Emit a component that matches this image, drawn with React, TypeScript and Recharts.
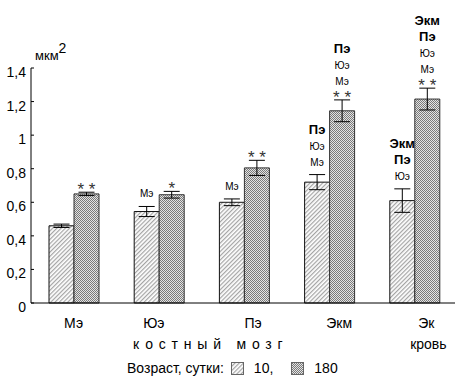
import React from 'react';
import { BarChart, Bar, XAxis, YAxis, ErrorBar } from 'recharts';

// cell types and the two ages (10 and 180 days)
const categories = ['Мэ', 'Юэ', 'Пэ', 'Экм', 'Эк'];
const age10 = [0.46, 0.545, 0.6, 0.72, 0.61];
const age180 = [0.65, 0.645, 0.805, 1.145, 1.215];
const err10 = [0.01, 0.03, 0.02, 0.045, 0.07];
const err180 = [0.01, 0.02, 0.045, 0.065, 0.065];
// significance marks above bars, listed bottom to top
const notes10 = [[], ['Мэ'], ['Мэ'], ['Мэ', 'Юэ', 'Пэ'], ['Юэ', 'Пэ', 'Экм']];
const notes180 = [['* *'], ['*'], ['* *'], ['* *', 'Мэ', 'Юэ', 'Пэ'], ['* *', 'Мэ', 'Юэ', 'Пэ', 'Экм']];
const yTicks = [0, 0.2, 0.4, 0.6, 0.8, 1, 1.2, 1.4];
const legendTitle = 'Возраст, сутки:';
const ageNames = ['10,', '180'];

const FONT = '"Liberation Sans", Arial, sans-serif';

const data = categories.map((name, i) => ({
  name,
  a10: age10[i],
  a180: age180[i],
  e10: err10[i],
  e180: err180[i],
}));

function makeNotes(notes: string[][], errs: number[]) {
  return (props: any) => {
    const { x, y, width, height, value, index } = props;
    const lines = notes[index] || [];
    if (!lines.length) return null;
    const errTop = y - errs[index] * (height / value);
    const cx = x + width / 2;
    let base = errTop;
    return (
      <g>
        {lines.map((t, k) => {
          const star = t.includes('*');
          const bold = t === 'Пэ' || t === 'Экм';
          let yy: number;
          if (k === 0) yy = star ? errTop + 3 : errTop - 9;
          else yy = base - (k === 1 && lines[0].includes('*') ? 18 : 16);
          base = yy;
          return (
            <text
              key={k}
              x={cx}
              y={yy}
              textAnchor="middle"
              fontFamily={FONT}
              fontSize={star ? 17 : bold ? 13 : 10}
              fontWeight={bold ? 'bold' : 'normal'}
              fill={star ? '#333' : '#000'}
            >
              {t}
            </text>
          );
        })}
      </g>
    );
  };
}

const YTick = (props: any) => {
  const { x, y, payload } = props;
  const label = String(payload.value).replace('.', ',');
  return (
    <g>
      <line x1={x + 4} x2={x + 7} y1={y} y2={y} stroke="#000" />
      <text x={x - 1} y={y + 9} textAnchor="end" fontFamily={FONT} fontSize={14} fill="#000">
        {label}
      </text>
    </g>
  );
};

const XTick = (props: any) => {
  const { x, y, payload, index } = props;
  const shift = [0, -5, 9, 10, 12][index] || 0;
  return (
    <g>
      <text x={x + shift} y={y + 17} textAnchor="middle" fontFamily={FONT} fontSize={14} fill="#000">
        {payload.value}
      </text>
      {index === 1 && (
        <text x={x + 52} y={y + 38} textAnchor="middle" fontFamily={FONT} fontSize={14} letterSpacing={5.8} fill="#000">
          костный мозг
        </text>
      )}
      {index === 4 && (
        <text x={x + 14} y={y + 38} textAnchor="middle" fontFamily={FONT} fontSize={14} fill="#000">
          кровь
        </text>
      )}
    </g>
  );
};

const UnitLabel = (props: any) => {
  const { viewBox } = props;
  const x0 = viewBox.x + viewBox.width + 4;
  return (
    <text x={x0} y={viewBox.y - 8} fontFamily={FONT} fontSize={13} fill="#000">
      мкм
      <tspan dy={-7} fontSize={14}>2</tspan>
    </text>
  );
};

const Patterns = ({ suffix }: { suffix: string }) => (
  <defs>
    <pattern id={`hatch${suffix}`} width={3} height={3} patternUnits="userSpaceOnUse" patternTransform="rotate(45)">
      <rect width={3} height={3} fill="#fff" />
      <rect width={1.2} height={3} fill="#a4a4a4" />
    </pattern>
    <pattern id={`check${suffix}`} width={2} height={2} patternUnits="userSpaceOnUse">
      <rect width={2} height={2} fill="#e4e4e4" />
      <rect width={1} height={1} fill="#7a7a7a" />
      <rect x={1} y={1} width={1} height={1} fill="#7a7a7a" />
    </pattern>
  </defs>
);

const Swatch = ({ fill }: { fill: string }) => (
  <svg width={13} height={13} style={{ display: 'inline-block', verticalAlign: 'middle' }}>
    <Patterns suffix="L" />
    <rect x={0.5} y={0.5} width={12} height={12} fill={`url(#${fill}L)`} stroke="#666" />
  </svg>
);

export default function App() {
  return (
    <div style={{ position: 'relative', width: 455, height: 376, background: '#fff' }}>
      <style>{'body{margin:0}'}</style>
      <BarChart
        width={455}
        height={376}
        data={data}
        margin={{ top: 68, right: -2, bottom: 0, left: 0 }}
        barGap={0}
        barSize={25}
      >
        <Patterns suffix="" />
        <YAxis
          width={31}
          domain={[0, 1.4]}
          ticks={yTicks}
          interval={0}
          tickLine={false}
          tickSize={0}
          tickMargin={4}
          axisLine={{ stroke: '#000' }}
          tick={<YTick />}
          label={{ content: <UnitLabel /> }}
        />
        <XAxis
          dataKey="name"
          tickLine={false}
          axisLine={{ stroke: '#000' }}
          tick={<XTick />}
          interval={0}
          height={73}
        />
        <Bar dataKey="a10" fill="url(#hatch)" stroke="#111" strokeWidth={1} isAnimationActive={false} label={makeNotes(notes10, err10)}>
          <ErrorBar dataKey="e10" width={8} stroke="#000" strokeWidth={1} />
        </Bar>
        <Bar dataKey="a180" fill="url(#check)" stroke="#333" strokeWidth={1} isAnimationActive={false} label={makeNotes(notes180, err180)}>
          <ErrorBar dataKey="e180" width={8} stroke="#000" strokeWidth={1} />
        </Bar>
      </BarChart>
      <div
        style={{
          position: 'absolute',
          left: 127,
          top: 360,
          fontFamily: FONT,
          fontSize: 14,
          lineHeight: '16px',
          whiteSpace: 'nowrap',
          display: 'flex',
          alignItems: 'center',
        }}
      >
        <span style={{ marginRight: 7 }}>{legendTitle}</span>
        <Swatch fill="hatch" />
        <span style={{ marginLeft: 10, marginRight: 18 }}>{ageNames[0]}</span>
        <Swatch fill="check" />
        <span style={{ marginLeft: 10 }}>{ageNames[1]}</span>
      </div>
    </div>
  );
}
